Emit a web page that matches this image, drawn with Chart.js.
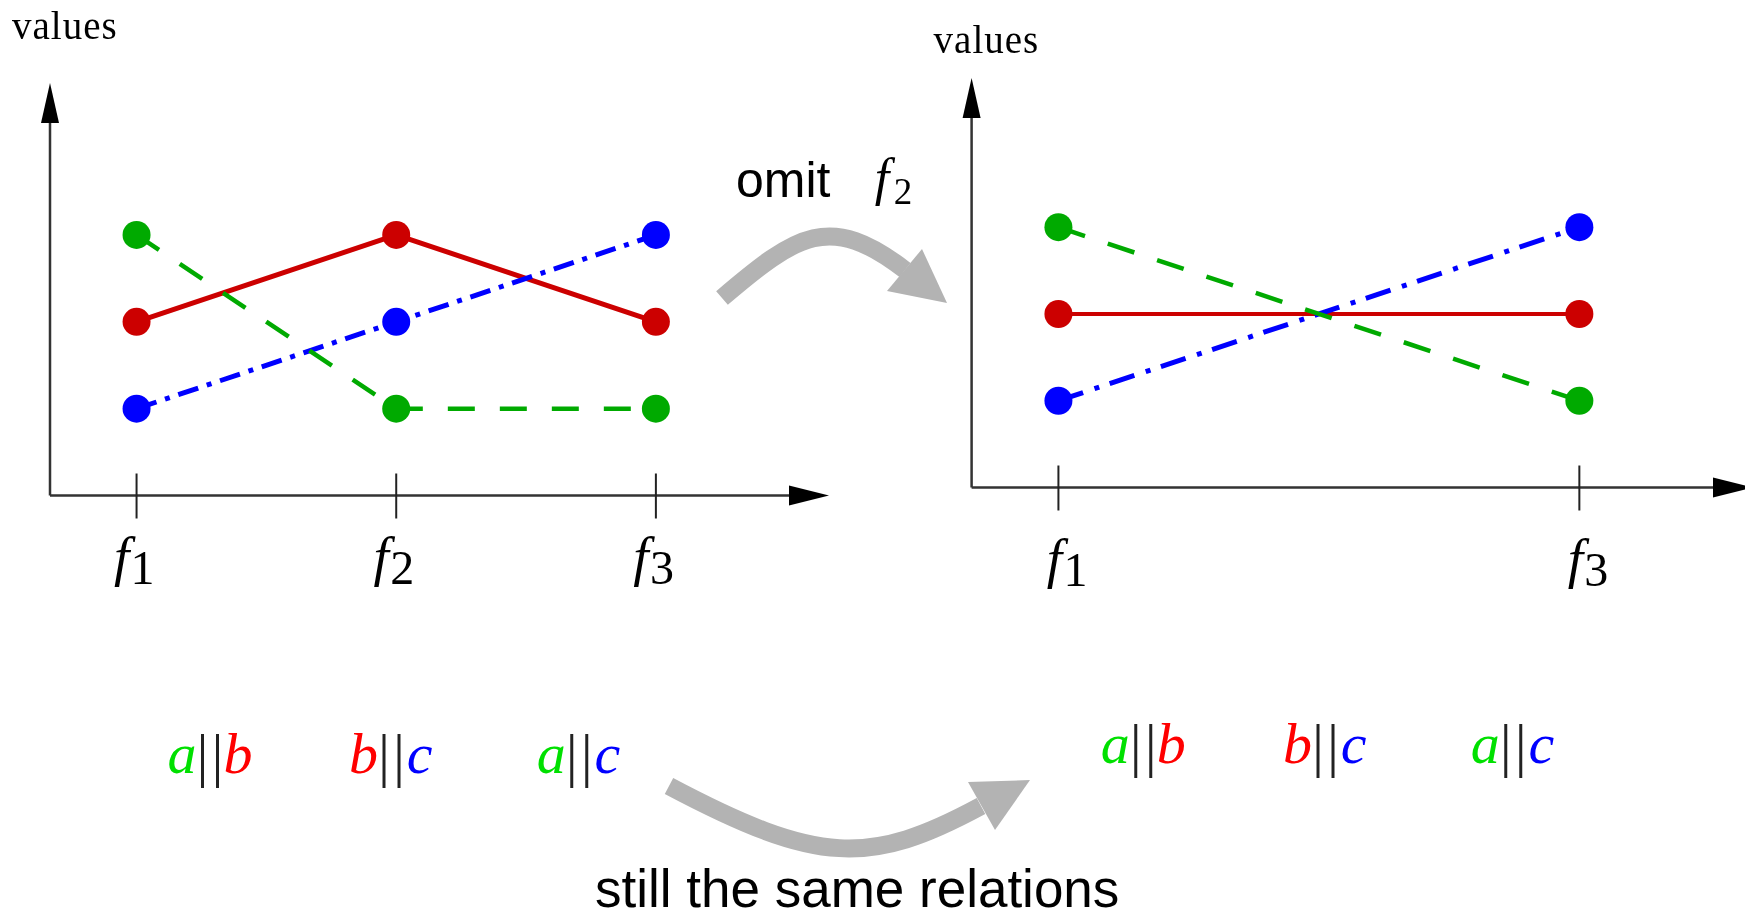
<!DOCTYPE html>
<html>
<head>
<meta charset="utf-8">
<script src="https://cdn.jsdelivr.net/npm/chart.js@4.4.1/dist/chart.umd.min.js"></script>
<style>
  html, body { margin: 0; padding: 0; background: #fff; overflow: hidden; }
  body { width: 1745px; height: 914px; position: relative; }
  .panel { position: absolute; top: 0; width: 900px; height: 620px; }
  #leftPanel  { left: 0; }
  #rightPanel { left: 880px; }
  #overlay { position: absolute; left: 0; top: 0; pointer-events: none; }
</style>
</head>
<body>
<div class="panel" id="leftPanel"><canvas id="leftChart" width="900" height="620"></canvas></div>
<div class="panel" id="rightPanel"><canvas id="rightChart" width="900" height="620"></canvas></div>

<svg id="overlay" width="1745" height="914" xmlns="http://www.w3.org/2000/svg">
  <!-- "omit f2" arrow -->
  <path d="M722,298 C797,234 830,212 905,270" fill="none" stroke="#b3b3b3" stroke-width="18"/>
  <polygon points="947,303 922,249 887,291" fill="#b3b3b3"/>
  <text x="736" y="197" font-family="Liberation Sans" font-size="50">omit</text>
  <text x="882" y="195" font-family="Liberation Serif" font-style="italic" font-size="52" text-anchor="middle">f</text>
  <text x="903" y="204" font-family="Liberation Serif" font-size="37" text-anchor="middle">2</text>

  <!-- "still the same relations" arrow -->
  <path d="M669,786 C818,865 870,866 981,806" fill="none" stroke="#b3b3b3" stroke-width="18"/>
  <polygon points="1030,780 968,782 995,830" fill="#b3b3b3"/>
  <text x="595" y="907" font-family="Liberation Sans" font-size="53">still the same relations</text>

  <g id="relations"></g>
</svg>

<script>
// Features on the x axis and the values of the three series a, b, c

const featureNames = ['f1', 'f2', 'f3']

const leftFeatures = [1, 2, 3]
const leftA        = [3, 1, 1]
const leftB        = [2, 3, 2]
const leftC        = [1, 2, 3]

// after omitting f2
const rightFeatures = [1, 3]
const rightA        = [3, 1]
const rightB        = [2, 2]
const rightC        = [1, 3]

// parallel relations shown under each plot
const relationPairs = [['a', 'b'], ['b', 'c'], ['a', 'c']]

const colA = '#00aa00'
const colB = '#cc0000'
const colC = '#0000ff'

const textColors = { a: '#00e000', b: '#ff0000', c: '#0000ff' }


// Axes with arrow heads, tick marks and f_i labels

const sketchAxes = {
  id: 'sketchAxes',

  beforeDatasetsDraw(chart, args, opts)
  {
    const ctx  = chart.ctx
    const area = chart.chartArea
    const x    = chart.scales.x
    const y    = chart.scales.y
    const x0   = area.left
    const y0   = y.getPixelForValue(0)

    ctx.save()

    // axis lines
    ctx.strokeStyle = '#333'
    ctx.lineWidth   = 2.5
    ctx.beginPath()
    ctx.moveTo(x0, y0)
    ctx.lineTo(x0, area.top + 30)
    ctx.moveTo(x0, y0)
    ctx.lineTo(area.right - 30, y0)
    ctx.stroke()

    // arrow heads
    ctx.fillStyle = '#000'
    ctx.beginPath()
    ctx.moveTo(x0, area.top)
    ctx.lineTo(x0 + 9, area.top + 40)
    ctx.lineTo(x0 - 9, area.top + 40)
    ctx.closePath()
    ctx.fill()

    ctx.beginPath()
    ctx.moveTo(area.right, y0)
    ctx.lineTo(area.right - 40, y0 - 10)
    ctx.lineTo(area.right - 40, y0 + 10)
    ctx.closePath()
    ctx.fill()

    // ticks + labels
    ctx.strokeStyle = '#222'
    ctx.lineWidth   = 2
    opts.ticks.forEach((val, i) => {
      const px = x.getPixelForValue(val)
      ctx.beginPath()
      ctx.moveTo(px, y0 - 22)
      ctx.lineTo(px, y0 + 23)
      ctx.stroke()

      const name = opts.labels[i]
      const cx   = px + opts.labelDx
      ctx.fillStyle    = '#000'
      ctx.textAlign    = 'center'
      ctx.textBaseline = 'alphabetic'
      ctx.font = 'italic 55px "Liberation Serif"'
      ctx.fillText(name.charAt(0), cx - 10, opts.labelBaseline)
      ctx.font = '48px "Liberation Serif"'
      ctx.fillText(name.slice(1), cx + 11, opts.labelBaseline + 9)
    })

    // y axis title
    ctx.font          = '39px "Liberation Serif"'
    ctx.letterSpacing = '1px'
    ctx.textAlign     = 'left'
    ctx.fillText('values', x0 - 38, opts.valuesBaseline)

    ctx.restore()
  }
}


function points(xs, ys)
{
  return xs.map((v, i) => ({ x: v, y: ys[i] }))
}

function makeDataset(label, data, color, width, dash)
{
  return {
    label:                label,
    data:                 data,
    borderColor:          color,
    backgroundColor:      color,
    borderWidth:          width,
    borderDash:           dash,
    pointRadius:          14,
    pointBorderWidth:     0,
    pointBackgroundColor: color,
    tension:              0,
    clip:                 false
  }
}

function makeChart(canvasId, xs, a, b, c, cfg)
{
  const ctx = document.getElementById(canvasId).getContext('2d')

  return new Chart(ctx, {
    type: 'line',
    data: {
      datasets: [
        makeDataset('a', points(xs, a), colA, 4.5, cfg.dashA),
        makeDataset('c', points(xs, c), colC, 5,   cfg.dashC),
        makeDataset('b', points(xs, b), colB, cfg.widthB, [])
      ]
    },
    options: {
      responsive: false,
      animation:  false,
      events:     [],
      layout: { padding: cfg.padding },
      scales: {
        x: { type: 'linear', display: false, min: 2 / 3, max: 11 / 3 },
        y: { type: 'linear', display: false, min: 0, max: cfg.yMax }
      },
      plugins: {
        legend:  { display: false },
        tooltip: { enabled: false },
        sketchAxes: {
          ticks:          xs,
          labels:         xs.map(v => featureNames[v - 1]),
          labelDx:        cfg.labelDx,
          labelBaseline:  cfg.labelBaseline,
          valuesBaseline: cfg.valuesBaseline
        }
      }
    },
    plugins: [sketchAxes]
  })
}

makeChart('leftChart', leftFeatures, leftA, leftB, leftC, {
  padding:        { left: 50, right: 71, top: 83, bottom: 124.5 },
  yMax:           4.75,
  widthB:         5,
  dashA:          [27, 25],
  dashC:          [21, 9, 5, 9],
  labelDx:        -5,
  labelBaseline:  575,
  valuesBaseline: 39
})

makeChart('rightChart', rightFeatures, rightA, rightB, rightC, {
  padding:        { left: 91.6, right: 27, top: 78, bottom: 132.5 },
  yMax:           4.72,
  widthB:         4,
  dashA:          [28, 24],
  dashC:          [26, 12, 5, 11],
  labelDx:        6,
  labelBaseline:  577,
  valuesBaseline: 53
})


// relation labels  x||y

const relationRows = [
  { centers: [210, 391.5, 579.3],      baseline: 773 },
  { centers: [1143.3, 1325.5, 1513.3], baseline: 763 }
]

const svgNS = 'http://www.w3.org/2000/svg'
const group = document.getElementById('relations')

function addText(str, x, y, color, italic, size)
{
  const t = document.createElementNS(svgNS, 'text')
  t.setAttribute('x', x)
  t.setAttribute('y', y)
  t.setAttribute('font-family', 'Liberation Serif')
  t.setAttribute('font-size', size)
  t.setAttribute('text-anchor', 'middle')
  t.setAttribute('fill', color)
  if( italic ) t.setAttribute('font-style', 'italic')
  t.textContent = str
  group.appendChild(t)
}

relationRows.forEach(row => {
  row.centers.forEach((cx, i) => {
    const [l, r] = relationPairs[i]
    addText(l,   cx - 28,  row.baseline,     textColors[l], true,  58)
    addText('|', cx - 7.5, row.baseline + 2, '#222',        false, 60)
    addText('|', cx + 7.5, row.baseline + 2, '#222',        false, 60)
    addText(r,   cx + 28,  row.baseline,     textColors[r], true,  58)
  })
})
</script>
</body>
</html>
